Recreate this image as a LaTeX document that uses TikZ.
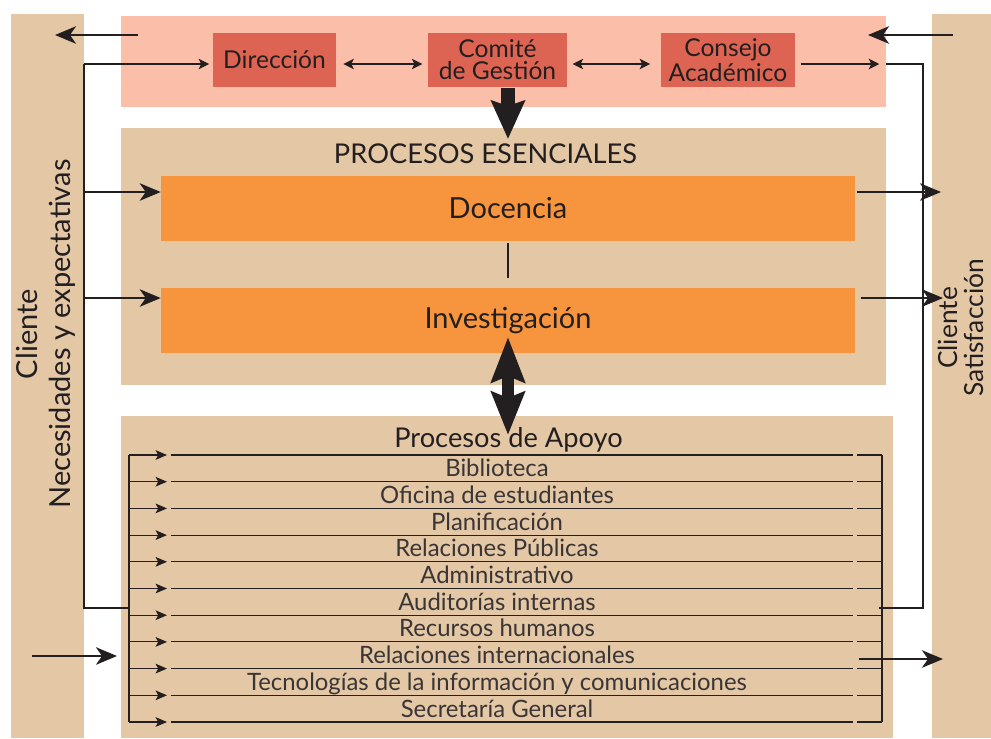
\documentclass[tikz,border=0pt]{standalone}
\usepackage{fontspec}
\setmainfont{Lato}
\usetikzlibrary{arrows.meta,positioning}
\definecolor{tanbar}{HTML}{E4C7A5}
\definecolor{pinkband}{HTML}{FBBFA9}
\definecolor{redbox}{HTML}{DD6452}
\definecolor{orangebox}{HTML}{F7943E}
\definecolor{inkline}{HTML}{231F20}

\begin{document}
\begin{tikzpicture}[x=0.02cm, y=-0.02cm,
  clientbar/.style={fill=tanbar, inner sep=0pt, minimum height=14.48cm},
  band/.style={inner sep=0pt, minimum width=15.3cm},
  govbox/.style={fill=redbox, inner sep=0pt, minimum height=1.08cm, align=center, text=inkline, font=\fontsize{14}{12.5}\selectfont},
  procbox/.style={fill=orangebox, inner sep=0pt, minimum width=13.88cm, minimum height=1.3cm, text=inkline, font=\fontsize{16.5}{18}\selectfont},
  railline/.style={draw=inkline, line width=0.6pt},
  thinarrow/.style={railline, -{Stealth[length=6pt, width=6pt, inset=1.5pt]}},
  govlink/.style={railline, {Stealth[length=6pt, width=6pt, inset=1.5pt]}-{Stealth[length=6pt, width=6pt, inset=1.5pt]}},
  rowarrow/.style={railline, -{Stealth[length=6.5pt, width=5.5pt, inset=1.5pt]}},
  flow/.style={draw=inkline, line width=0.85pt, -{Stealth[length=12pt, width=10pt, inset=3.5pt]}},
  bigarrow/.style={draw=inkline, line width=0.28cm},
  rowtext/.style={anchor=base, text=inkline!90, font=\fontsize{13.6}{15}\selectfont},
  sidetext/.style={rotate=90, align=center, text=inkline}
]
\useasboundingbox (0,0) rectangle (991,738);

% Client bars
\node[clientbar, minimum width=1.46cm] (leftbar) at (47.5,376) {};
\node[clientbar, minimum width=1.18cm] (rightbar) at (961.5,376) {};
\node[sidetext, font=\fontsize{16.5}{18.5}\selectfont] (needs) at (46,334) {Cliente\\Necesidades y expectativas};
\node[sidetext, font=\fontsize{15}{15}\selectfont] (satis) at (961,328) {Cliente\\Satisfacción};

% Bands
\node[band, fill=pinkband, minimum height=1.82cm] (gobierno) at (503.5,61.5) {};
\node[band, fill=tanbar, minimum height=5.14cm] (esencial) at (503.5,256.5) {};
\node[band, fill=tanbar, minimum width=15.44cm, minimum height=6.44cm] (apoyo) at (507,577) {};
\node[anchor=base, text=inkline, font=\fontsize{15.5}{17}\selectfont] (esentitle) at (485.5,163) {PROCESOS ESENCIALES};
\node[anchor=base, text=inkline, font=\fontsize{15.5}{17}\selectfont] (apoyotitle) at (508.5,447) {Procesos de Apoyo};

% Governance boxes
\node[govbox, minimum width=2.46cm] (direccion) at (274.5,60) {Dirección};
\node[govbox, minimum width=2.78cm] (comite) at (497.5,60) {Comité\\de Gestión};
\node[govbox, minimum width=2.68cm] (consejo) at (728,60) {Consejo\\Académico};

% Essential processes
\node[procbox] (docencia) at (508,208.5) {Docencia};
\node[procbox] (investigacion) at (508,320.5) {Investigación};

% Rails and feedback
\coordinate (railLtop) at (84,64);
\coordinate (railLfoot) at (84,608);
\coordinate (railRtop) at (923,64);
\coordinate (railRfoot) at (923,608);
\coordinate (outLstart) at (138,35);
\coordinate (outLend) at (55,35);
\coordinate (inRstart) at (953,35);
\coordinate (inRend) at (868,35);
\draw[flow] (outLstart) -- (outLend);
\draw[flow] (inRstart) -- (inRend);
\draw[railline] (129,608) -- (railLfoot) -- (railLtop);
\draw[thinarrow, shorten >=2pt] (railLtop) -- (railLtop -| direccion.west);
\draw[govlink, shorten <=4pt, shorten >=3pt] (direccion.east |- railLtop) -- (comite.west |- railLtop);
\draw[govlink, shorten <=3pt, shorten >=6pt] (comite.east |- railLtop) -- (consejo.west |- railLtop);
\draw[thinarrow, shorten <=3pt, shorten >=4pt] (consejo.east |- railLtop) -- (gobierno.east |- railLtop);
\draw[railline] (gobierno.east |- railRtop) -- (railRtop) -- (railRfoot) -- (879,608);

% Inputs and outputs of the essential processes
\coordinate (docin) at ([yshift=0.33cm]docencia.west);
\coordinate (invin) at ([yshift=0.45cm]investigacion.west);
\coordinate (docout) at (941,192);
\coordinate (invout) at (943,298);
\draw[flow] (railLtop |- docin) -- (docin);
\draw[flow] (railLtop |- invin) -- (invin);
\draw[flow] ([xshift=1pt]docencia.east |- docout) -- (docout);
\draw[flow] ([xshift=3pt]docencia.east |- invout) -- (invout);
\draw[railline] (508,243) -- (508,278);

% Big arrows
\coordinate (govdown) at (508,88);
\coordinate (esentop) at (508,139);
\coordinate (invtip) at (508,337);
\coordinate (apoyotip) at (508,435);
\draw[bigarrow, -{Stealth[length=0.76cm, width=0.66cm, inset=0.1cm]}] (govdown) -- (esentop);
\draw[bigarrow, line width=0.24cm, {Stealth[length=0.9cm, width=0.66cm, inset=0.12cm]}-{Stealth[length=0.86cm, width=0.66cm, inset=0.12cm]}] (invtip) -- (apoyotip);

% Support processes
\draw[railline] (129,455) -- (129,722);
\draw[railline] (882,455) -- (882,722);
\foreach \i in {0,...,10}{
  \pgfmathsetmacro\ry{455+26.7*\i}
  \coordinate (rowL\i) at (129,\ry);
  \coordinate (rowR\i) at (882,\ry);
  \draw[rowarrow] (rowL\i) -- ++(38,0);
  \draw[railline] ([xshift=0.84cm]rowL\i) -- ([xshift=-0.58cm]rowR\i);
  \draw[railline] ([xshift=-0.5cm]rowR\i) -- (rowR\i);
}
\foreach \lbl [count=\i] in {Biblioteca, Oficina de estudiantes, Planificación, Relaciones Públicas, Administrativo, Auditorías internas, Recursos humanos, Relaciones internacionales, Tecnologías de la información y comunicaciones, Secretaría General}
  \node[rowtext] (proc\i) at (497,450+26.7*\i) {\lbl};

% Support inputs and outputs
\coordinate (supin) at (32,656);
\coordinate (supinend) at (117,656);
\coordinate (supout) at (859,659);
\coordinate (supoutend) at (943,659);
\draw[flow] (supin) -- (supinend);
\draw[flow] (supout) -- (supoutend);
\end{tikzpicture}
\end{document}
